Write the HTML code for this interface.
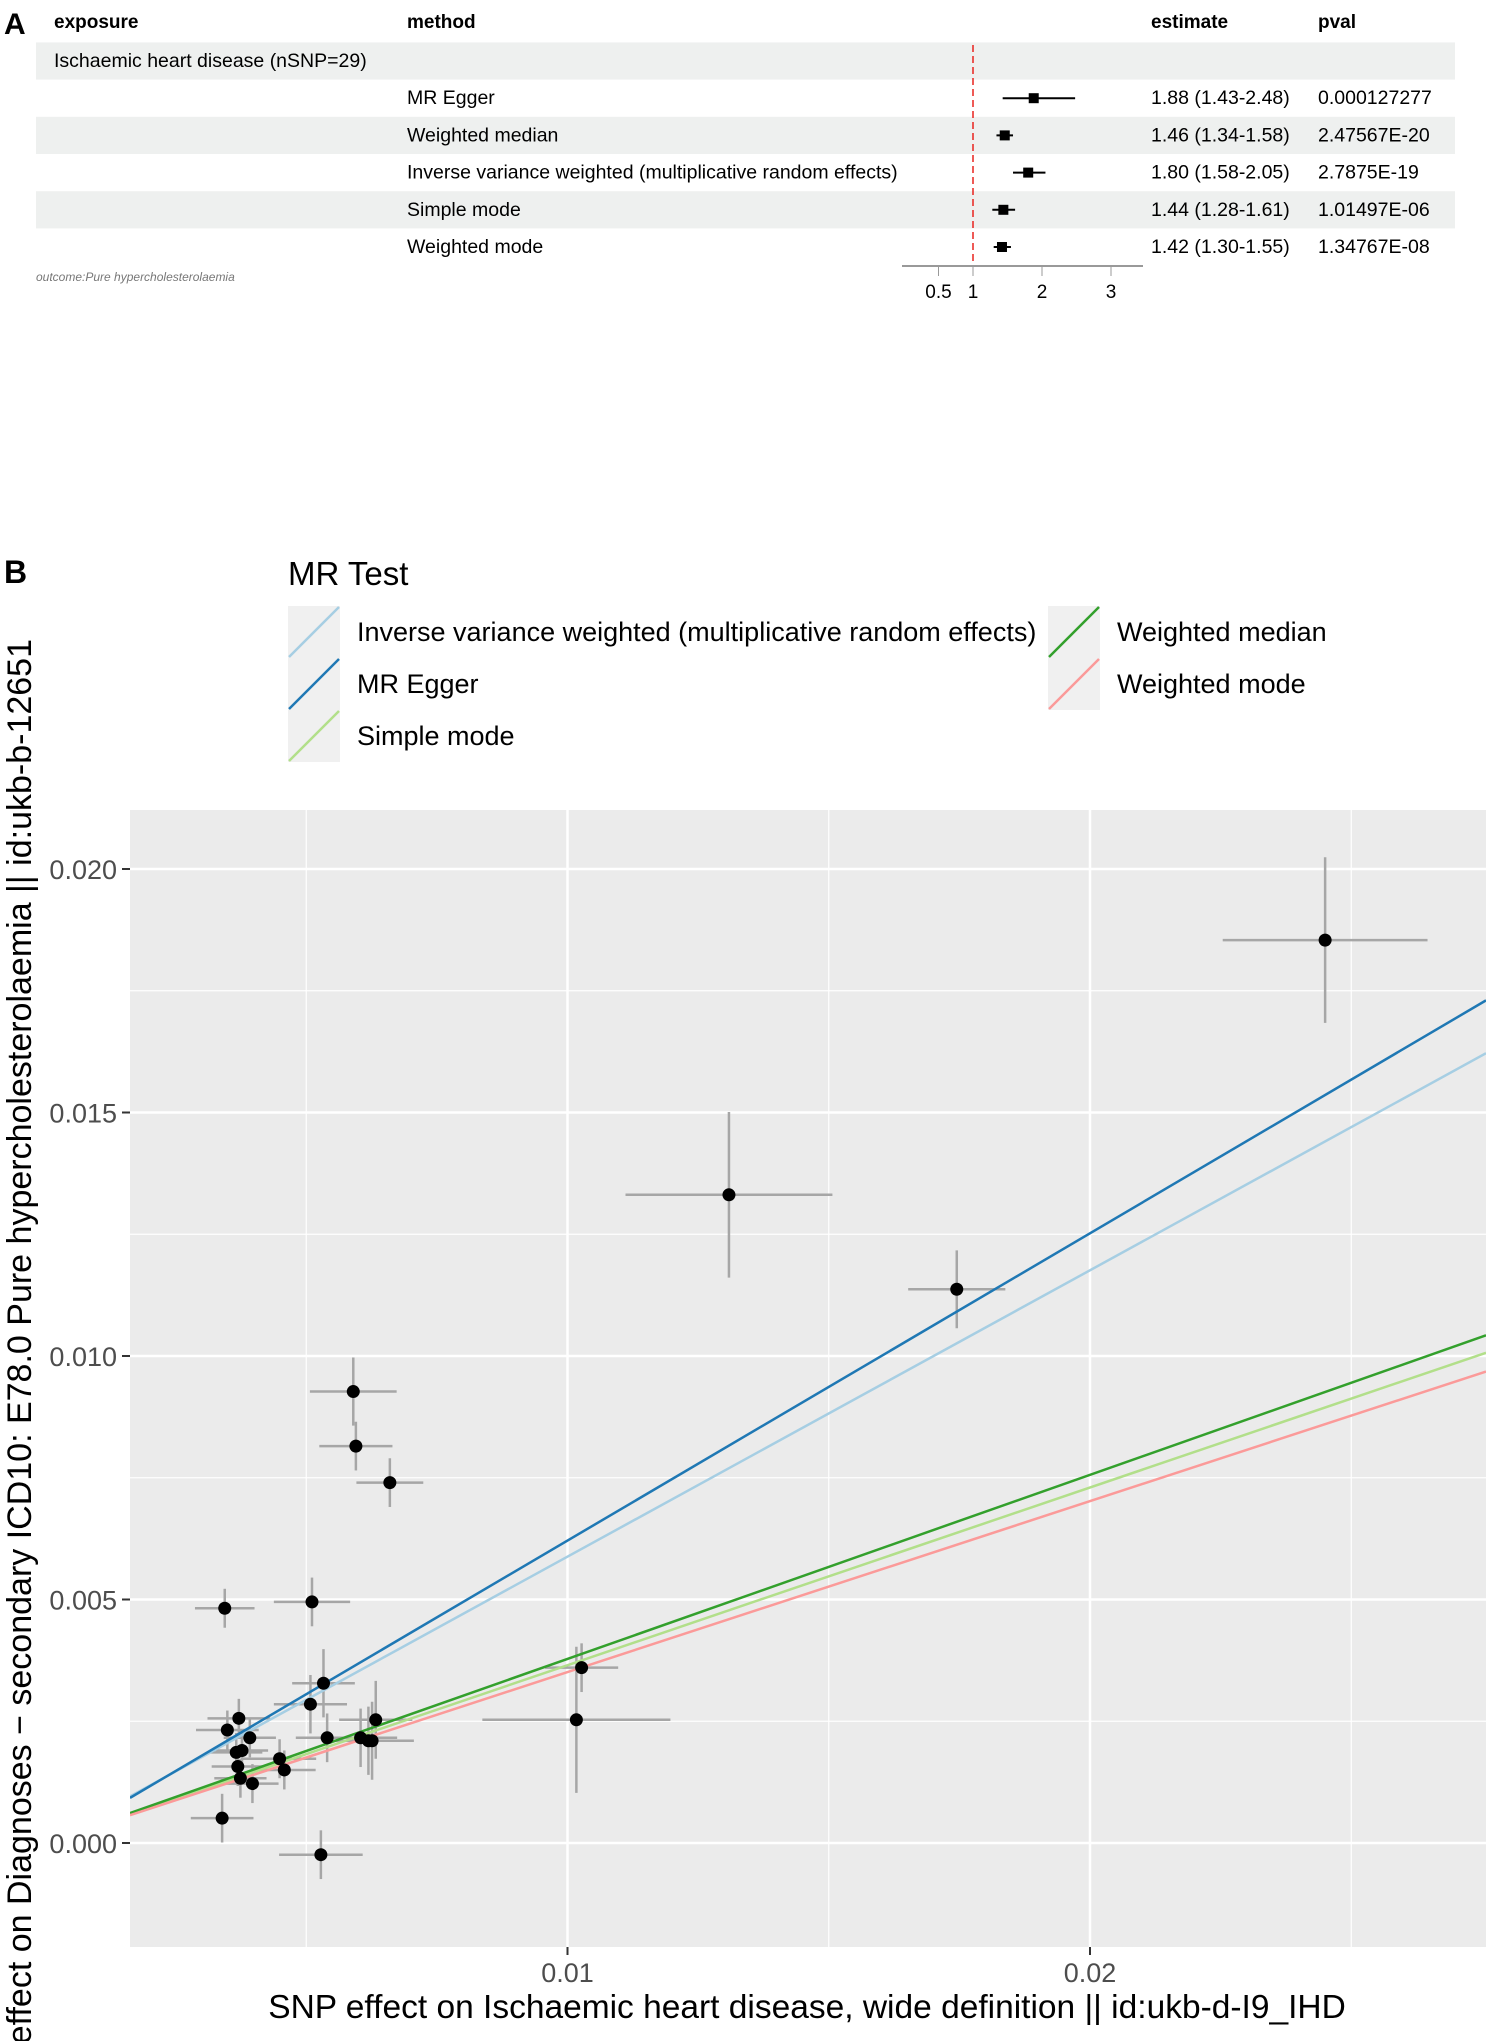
<!DOCTYPE html>
<html><head><meta charset="utf-8"><style>
body{margin:0;background:#fff;width:1505px;height:2041px;overflow:hidden;font-family:"Liberation Sans",sans-serif}
svg{position:absolute;left:0;top:0}
</style></head><body>
<svg width="1505" height="2041" xmlns="http://www.w3.org/2000/svg" font-family="Liberation Sans, sans-serif">
<g id="panelA"></g>
<g id="panelB"></g>
</svg>
<script>
// ---- Panel A data ----
const methodsA = ["MR Egger","Weighted median","Inverse variance weighted (multiplicative random effects)","Simple mode","Weighted mode"];
const estA = [1.88,1.46,1.80,1.44,1.42];
const loA = [1.43,1.34,1.58,1.28,1.30];
const hiA = [2.48,1.58,2.05,1.61,1.55];
const pvalA = ["0.000127277","2.47567E-20","2.7875E-19","1.01497E-06","1.34767E-08"];
const ticksA = [0.5,1,2,3];
// ---- Panel B data ----
const bx = [0.0245,0.01309,0.01745,0.0059,0.00595,0.0066,0.00344,0.00511,0.00533,0.00508,0.00371,0.00349,0.0054,0.00633,0.00604,0.00626,0.00392,0.00377,0.00366,0.00449,0.00369,0.00458,0.00374,0.00397,0.00339,0.00528,0.01017,0.01027,0.00619];
const by = [0.01854,0.01331,0.01137,0.00927,0.00815,0.0074,0.00482,0.00495,0.00328,0.00285,0.00256,0.00232,0.00216,0.00253,0.00216,0.0021,0.00216,0.0019,0.00186,0.00173,0.00157,0.0015,0.00133,0.00122,0.00051,-0.00024,0.00253,0.0036,0.0021];
const bxse = [0.00196,0.00198,0.00093,0.00083,0.0007,0.00064,0.00057,0.00073,0.0006,0.0007,0.0006,0.0006,0.0006,0.0007,0.0007,0.0008,0.0005,0.0005,0.0005,0.0007,0.0005,0.0006,0.0005,0.0005,0.0006,0.0008,0.0018,0.0007,0.0006];
const byse = [0.0017,0.0017,0.0008,0.0007,0.0005,0.0005,0.0004,0.0005,0.0007,0.0006,0.0004,0.0004,0.0005,0.0008,0.0006,0.0008,0.0004,0.0004,0.0004,0.0004,0.0004,0.0004,0.0004,0.0004,0.0005,0.0005,0.0015,0.0005,0.0007];
const lineNames = ["Inverse variance weighted (multiplicative random effects)","MR Egger","Simple mode","Weighted median","Weighted mode"];
const lineSlopes = [0.588,0.631,0.365,0.378,0.351];
const lineIntercepts = [0,-0.0001,0,0,0];
const lineColors = ["#a6cee3","#1f78b4","#b2df8a","#33a02c","#fb9a99"];
const yTicksB = [0,0.005,0.010,0.015,0.020];
const yTickLabelsB = ["0.000","0.005","0.010","0.015","0.020"];
const xTicksB = [0.01,0.02];
const xTickLabelsB = ["0.01","0.02"];

const NS="http://www.w3.org/2000/svg";
function mk(parent,tag,attrs,text){const e=document.createElementNS(NS,tag);for(const k in attrs)e.setAttribute(k,attrs[k]);if(text!==undefined)e.textContent=text;parent.appendChild(e);return e;}

// ---- Panel A ----
const A=document.getElementById('panelA');
let t;
t=mk(A,'text',{x:4,y:34,'font-size':30,'font-weight':'bold'},'A');


const rowY=i=>61+i*37.2;
[0,2,4].forEach(i=>{const r=mk(A,'rect',{x:36,y:rowY(i)-18.6,width:1419,height:37.2,fill:'#eef0ef'});

});
const hdr=[["exposure",54],["method",407],["estimate",1151],["pval",1318]];
hdr.forEach(h=>{t=mk(A,'text',{x:h[1],y:28,'font-size':19,'font-weight':'bold'},h[0]);

});
t=mk(A,'text',{x:54,y:rowY(0)+6,'font-size':19.5},'Ischaemic heart disease (nSNP=29)');


const xA=v=>973+(v-1)*69;
let l=mk(A,'line',{x1:xA(1),x2:xA(1),y1:45,y2:266,stroke:'#e8231f','stroke-width':1.5,'stroke-dasharray':'7,4'});


methodsA.forEach((m,i)=>{const y=rowY(i+1);
 t=mk(A,'text',{x:407,y:y+6,'font-size':19.5},m);
 
 
 l=mk(A,'line',{x1:xA(loA[i]),x2:xA(hiA[i]),y1:y,y2:y,stroke:'#000','stroke-width':2});
 
 
 const r=mk(A,'rect',{x:xA(estA[i])-5,y:y-5,width:10,height:10,fill:'#000'});
 
 
 t=mk(A,'text',{x:1151,y:y+6,'font-size':19.5},estA[i].toFixed(2)+' ('+loA[i].toFixed(2)+'-'+hiA[i].toFixed(2)+')');
 
 
 t=mk(A,'text',{x:1318,y:y+6,'font-size':19.5},pvalA[i]);
 
 
});
l=mk(A,'line',{x1:902,x2:1143,y1:266,y2:266,stroke:'#999','stroke-width':2});


ticksA.forEach(v=>{l=mk(A,'line',{x1:xA(v),x2:xA(v),y1:266,y2:276,stroke:'#999','stroke-width':1});


t=mk(A,'text',{x:xA(v),y:298,'font-size':19,'text-anchor':'middle'},String(v));

});
t=mk(A,'text',{x:36,y:281,'font-size':12,'font-style':'italic',fill:'#777'},'outcome:Pure hypercholesterolaemia');



// ---- Panel B ----
const B=document.getElementById('panelB');
const PL=130,PR=1486,PT=810,PB=1947;
const xS=v=>45+v*52250;
const yS=v=>1843-v*48700;
t=mk(B,'text',{x:4,y:583,'font-size':32,'font-weight':'bold'},'B');


t=mk(B,'text',{x:288,y:585,'font-size':33},'MR Test');


const legPos=[[288,632],[288,684],[288,736],[1048,632],[1048,684]];
lineNames.forEach((n,i)=>{const [lx,ly]=legPos[i];
 const r=mk(B,'rect',{x:lx,y:ly-26,width:52,height:52,fill:'#f0f0f0'});
 
 
 l=mk(B,'line',{x1:lx+1,y1:ly+25,x2:lx+51,y2:ly-25,stroke:lineColors[i],'stroke-width':2.5});
 
 
 t=mk(B,'text',{x:lx+69,y:ly+9,'font-size':27},n);
 
 
});
const bg=mk(B,'rect',{x:PL,y:PT,width:PR-PL,height:PB-PT,fill:'#ebebeb'});


const cp=mk(B,'clipPath',{id:'clipB'});mk(cp,'rect',{x:PL,y:PT,width:PR-PL,height:PB-PT});
const G=mk(B,'g',{'clip-path':'url(#clipB)'});


[-0.0025,0.0025,0.0075,0.0125,0.0175,0.0225].forEach(v=>{l=mk(G,'line',{x1:PL,x2:PR,y1:yS(v),y2:yS(v),stroke:'#fff','stroke-width':1.2});

});
[0.005,0.015,0.025].forEach(v=>{l=mk(G,'line',{x1:xS(v),x2:xS(v),y1:PT,y2:PB,stroke:'#fff','stroke-width':1.2});

});
yTicksB.forEach(v=>{l=mk(G,'line',{x1:PL,x2:PR,y1:yS(v),y2:yS(v),stroke:'#fff','stroke-width':2.5});

});
xTicksB.forEach(v=>{l=mk(G,'line',{x1:xS(v),x2:xS(v),y1:PT,y2:PB,stroke:'#fff','stroke-width':2.5});

});
bx.forEach((x,i)=>{
 l=mk(G,'line',{x1:xS(x-bxse[i]),x2:xS(x+bxse[i]),y1:yS(by[i]),y2:yS(by[i]),stroke:'#a6a6a6','stroke-width':2.5});
 
 
 l=mk(G,'line',{x1:xS(x),x2:xS(x),y1:yS(by[i]-byse[i]),y2:yS(by[i]+byse[i]),stroke:'#a6a6a6','stroke-width':2.5});
 
 
});
const x0=(PL-45)/52250,x1=(PR-45)/52250;
lineNames.forEach((n,i)=>{l=mk(G,'line',{x1:xS(x0),x2:xS(x1),y1:yS(lineIntercepts[i]+lineSlopes[i]*x0),y2:yS(lineIntercepts[i]+lineSlopes[i]*x1),stroke:lineColors[i],'stroke-width':2.5});

});
bx.forEach((x,i)=>{const c=mk(G,'circle',{cx:xS(x),cy:yS(by[i]),r:6.5,fill:'#000'});

});
yTicksB.forEach((v,i)=>{l=mk(B,'line',{x1:PL-8,x2:PL,y1:yS(v),y2:yS(v),stroke:'#333','stroke-width':2});


t=mk(B,'text',{x:PL-13,y:yS(v)+10,'font-size':27,fill:'#4d4d4d','text-anchor':'end'},yTickLabelsB[i]);

});
xTicksB.forEach((v,i)=>{l=mk(B,'line',{x1:xS(v),x2:xS(v),y1:PB,y2:PB+8,stroke:'#333','stroke-width':2});


t=mk(B,'text',{x:xS(v),y:PB+35,'font-size':27,fill:'#4d4d4d','text-anchor':'middle'},xTickLabelsB[i]);

});
t=mk(B,'text',{x:807,y:2018,'font-size':33.5,'text-anchor':'middle'},'SNP effect on Ischaemic heart disease, wide definition || id:ukb-d-I9_IHD');


t=mk(B,'text',{x:0,y:0,'font-size':34,'text-anchor':'middle',transform:'translate(31,1381) rotate(-90)'},'SNP effect on Diagnoses − secondary ICD10: E78.0 Pure hypercholesterolaemia || id:ukb-b-12651');


</script>
</body></html>
